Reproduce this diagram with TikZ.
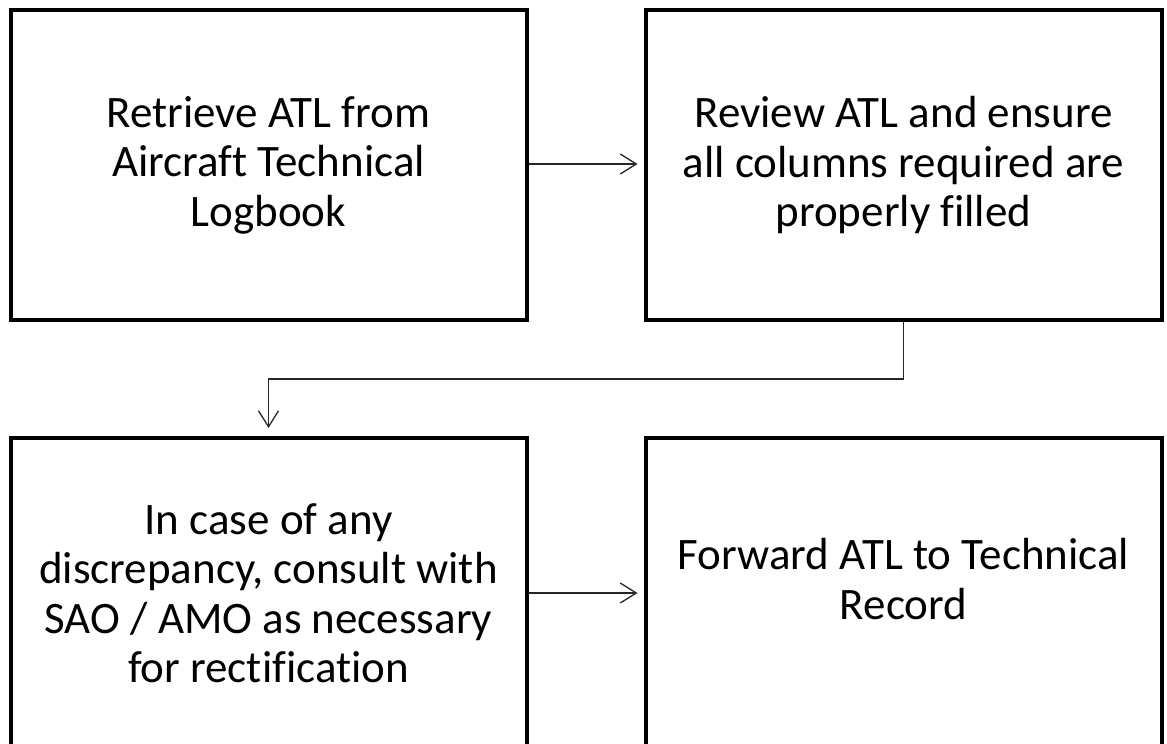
\documentclass[tikz,border=0pt]{standalone}
\usepackage{fontspec}
\setmainfont{Carlito}[Ligatures=NoCommon]
\usetikzlibrary{arrows.meta,calc}
\tikzset{
  stepbox/.style={draw=black, line width=4pt, minimum width=516pt, minimum height=310pt, inner sep=0pt},
  steptext/.style={align=center, font=\fontsize{45}{49.5}\selectfont, inner sep=0pt},
  flow/.style={draw=black!85, line width=1.3pt, -{Straight Barb[length=16pt,width=20pt,line width=1.3pt]}}
}
\begin{document}
\begin{tikzpicture}[x=1pt,y=-1pt]
  \useasboundingbox (0,0) rectangle (1167,744);
  \clip (0,0) rectangle (1167,744);
  % boxes
  \node[stepbox] (b1) at (268.5,165) {};
  \node[stepbox] (b2) at (903.5,165) {};
  \node[stepbox] (b3) at (268.5,593) {};
  \node[stepbox] (b4) at (903.5,593) {};
  % labels
  \node[steptext] (t1) at (b1.center) {Retrieve ATL from\\Aircraft Technical\\Logbook};
  \node[steptext] (t2) at (b2.center) {Review ATL and ensure\\all columns required are\\properly filled};
  \node[steptext] (t3) at (b3.center) {In case of any\\discrepancy, consult with\\SAO / AMO as necessary\\for rectification};
  \node[steptext] (t4) at ($(b4.center)+(0,-14)$) {Forward ATL to Technical\\Record};
  % connectors
  \coordinate (bend) at (268.5,379);
  \draw[flow, shorten >=6pt] ($(b1.east)+(0,-1)$) -- ($(b2.west)+(0,-1)$);
  \draw[flow, shorten >=8pt] (b2.south) |- (bend) -- (b3.north);
  \draw[flow, shorten >=6pt] (b3.east) -- (b4.west);
\end{tikzpicture}
\end{document}
